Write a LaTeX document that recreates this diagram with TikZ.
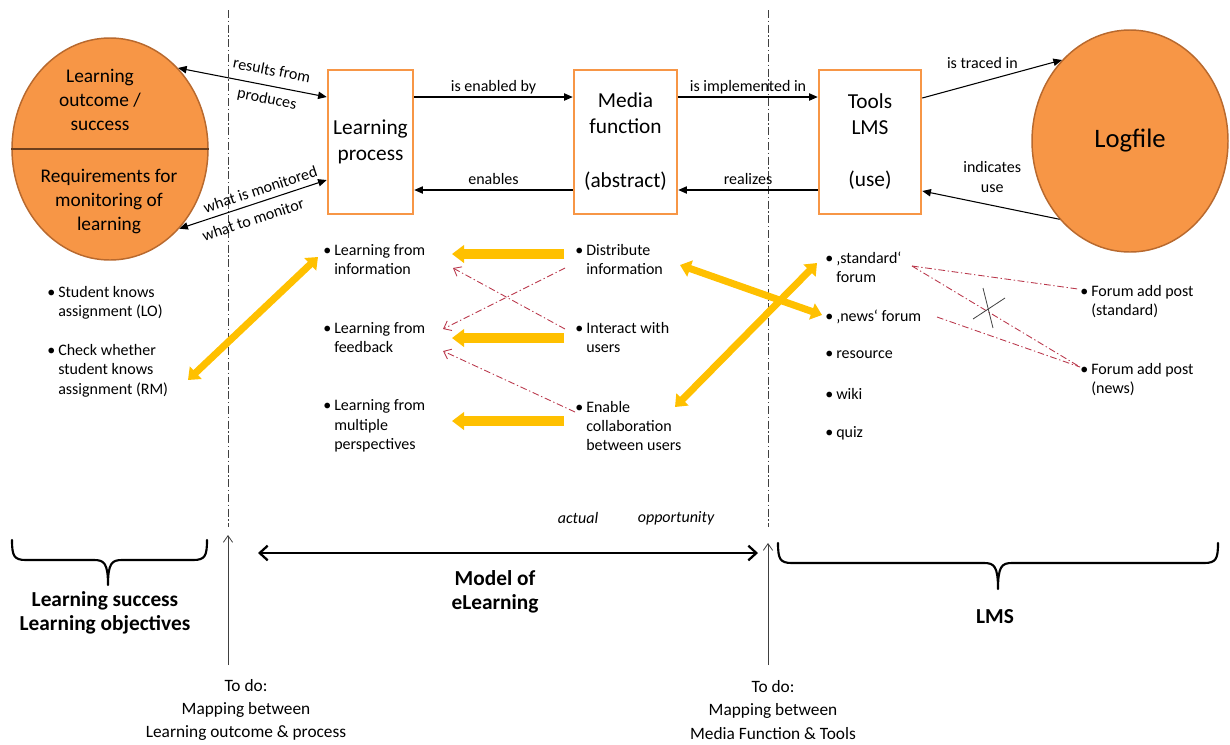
\documentclass[tikz,border=0pt]{standalone}
\usepackage{fontspec}
\setmainfont{Carlito}
\usetikzlibrary{arrows.meta,calc,shapes.geometric}
\newdimen\pxu \pxu=0.75pt
\definecolor{orfill}{HTML}{F79646}
\definecolor{ordraw}{HTML}{B8692E}
\definecolor{boxor}{HTML}{F79646}
\definecolor{yel}{HTML}{FFC000}
\definecolor{redd}{RGB}{185,55,75}
\definecolor{dgray}{HTML}{404040}
\newcommand{\bul}{\makebox[11\pxu][l]{\textbullet}}
\newcommand{\ind}{\hspace*{11\pxu}}
\begin{document}
\begin{tikzpicture}[x=0.75pt,y=-0.75pt,
 every node/.style={inner sep=0pt},
 btxt/.style={font=\fontsize{12}{14.5}\selectfont, align=left, anchor=west},
 elab/.style={font=\fontsize{12}{14.5}\selectfont, inner sep=1pt, text height=8.5pt, text depth=2.5pt},
 elabm/.style={font=\fontsize{12}{14.5}\selectfont, inner sep=1pt, align=center},
 circ/.style={ellipse, fill=orfill, draw=ordraw, line width=1.1pt, minimum width=196\pxu, minimum height=222\pxu},
 mbox/.style={rectangle, draw=boxor, line width=1.9pt, fill=white, minimum height=144\pxu, align=center, font=\fontsize{16}{19.5}\selectfont},
 conn/.style={draw=black, line width=0.8pt, -{Triangle[length=6.5pt,width=5.5pt]}},
 dconn/.style={draw=black, line width=0.8pt, {Triangle[length=6.5pt,width=5.5pt]}-{Triangle[length=6.5pt,width=5.5pt]}},
 yfat/.style={draw=yel, line width=7pt, -{Triangle[length=9pt,width=13pt]}},
 ydbl/.style={draw=yel, line width=5.3pt, {Triangle[length=8pt,width=12.5pt]}-{Triangle[length=8pt,width=12.5pt]}},
 rarr/.style={draw=redd, line width=0.65pt, dash pattern=on 5pt off 2pt on 1pt off 2pt, -{Straight Barb[length=5pt,width=8pt]}},
 rdash/.style={draw=redd, line width=0.65pt, dash pattern=on 5pt off 2pt on 1pt off 2pt},
 vsep/.style={draw=dgray, line width=0.7pt, dash pattern=on 6pt off 2pt on 1pt off 2pt},
 upar/.style={draw=dgray, line width=0.6pt, -{Straight Barb[length=5pt,width=7pt]}},
 bigarr/.style={draw=black, line width=1.7pt, {Straight Barb[length=6pt,width=11pt]}-{Straight Barb[length=6pt,width=11pt]}},
 bracestyle/.style={draw=black, line width=1.6pt, line cap=round, line join=round},
 boldtxt/.style={font=\bfseries\fontsize{16}{18}\selectfont, align=center},
 todo/.style={font=\fontsize{13}{17.5}\selectfont, align=center},
 ital/.style={font=\itshape\fontsize{12}{14}\selectfont},
 eltxt/.style={font=\fontsize{14.5}{18}\selectfont, align=center}
]
\useasboundingbox (0,0) rectangle (1230,744);

% separators
\draw[vsep] (228,10) -- (228,527);
\draw[vsep] (768,10) -- (768,527);

% left ellipse
\node[circ] (le) at (110,149) {};
\draw[ordraw!60!black, line width=0.9pt] (le.west) -- (le.east);
\node[eltxt] (lo) at (100,100) {Learning\\outcome /\\success};
\node[eltxt] (rq) at (109,202) {Requirements for\\monitoring of\\learning};

% logfile
\node[circ, font=\fontsize{20}{24}\selectfont] (lg) at (1130,141) {Logfile};

% boxes
\node[mbox, minimum width=85\pxu] (lp) at (370.5,142) {Learning\\process};
\node[mbox, minimum width=103\pxu] (mf) at (625.5,142) {Media\\function\\[21pt](abstract)};
\node[mbox, minimum width=102\pxu] (tl) at (870,142) {Tools\\LMS\\[19.5pt](use)};

% connectors top
\draw[conn] ($(lp.east)+(0,-45)$) -- node[elab, above]{is enabled by} ($(mf.west)+(0,-45)$);
\draw[conn] ($(mf.west)+(0,48)$) -- node[elab, above]{enables} ($(lp.east)+(0,48)$);
\draw[conn] ($(mf.east)+(0,-45)$) -- node[elab, above]{is implemented in} ($(tl.west)+(0,-45)$);
\draw[conn] ($(tl.west)+(0,48)$) -- node[elab, above]{realizes} ($(mf.east)+(0,48)$);
\draw[conn] ($(tl.east)+(0,-44)$) -- node[elab, above=6pt, pos=0.43]{is traced in} (lg.130);
\draw[conn] (lg.228) -- node[elabm, above=8.5pt, pos=0.49]{indicates\\use} ($(tl.east)+(0,49)$);
\draw[dconn] (le.50) -- node[elab, sloped, above=3.9pt, pos=0.61]{results from} node[elab, sloped, below=3.6pt, pos=0.615]{produces} ($(lp.west)+(0,-45)$);
\draw[dconn] (le.-49) -- node[elab, sloped, above=1pt, pos=0.575]{what is monitored} node[elab, sloped, below=5pt, pos=0.47]{what to monitor} ($(lp.west)+(0,38)$);

% bullet lists
\node[btxt] (so) at (47,302.5) {\bul Student knows\\\ind assignment (LO)};
\node[btxt] (ck) at (47,370.5) {\bul Check whether\\\ind student knows\\\ind assignment (RM)};
\node[btxt] (l1) at (323,259.5) {\bul Learning from\\\ind information};
\node[btxt] (l2) at (323,337.5) {\bul Learning from\\\ind feedback};
\node[btxt] (l3) at (323,426) {\bul Learning from\\\ind multiple\\\ind perspectives};
\node[btxt] (d1) at (575,259.5) {\bul Distribute\\\ind information};
\node[btxt] (i1) at (575,337.5) {\bul Interact with\\\ind users};
\node[btxt] (e1) at (575,426) {\bul Enable\\\ind collaboration\\\ind between users};
\node[btxt] (sf) at (825,267.5) {\bul ‚standard‘\\\ind forum};
\node[btxt] (nf) at (825,317) {\bul ‚news‘ forum};
\node[btxt] (rs) at (825,355) {\bul resource};
\node[btxt] (wk) at (825,394) {\bul wiki};
\node[btxt] (qz) at (825,433) {\bul quiz};
\node[btxt] (fa1) at (1080,301.5) {\bul Forum add post\\\ind (standard)};
\node[btxt] (fa2) at (1080,379.5) {\bul Forum add post\\\ind (news)};

% yellow arrows
\draw[yfat] ($(d1.west)+(-11,-5.5)$) -- ($(l1.west)+(129,-5.5)$);
\draw[yfat] ($(i1.west)+(-11,0.5)$) -- ($(l2.west)+(129,0.5)$);
\draw[yfat] ($(e1.west)+(-11,-5)$) -- ($(l3.west)+(129,-5)$);
\draw[ydbl] ($(ck.west)+(141,9.5)$) -- ($(l1.west)+(-5,-2.5)$);
\draw[ydbl] ($(d1.west)+(105,5.5)$) -- ($(nf.west)+(-3,-2)$);
\draw[ydbl] ($(e1.west)+(100,-19)$) -- ($(sf.west)+(-8,-4.5)$);

% red dash-dot arrows
\draw[rarr] ($(d1.west)+(-10,8.5)$) -- ($(l2.west)+(120,-8.5)$);
\draw[rarr] ($(i1.west)+(-10,-8.5)$) -- ($(l1.west)+(130,8.5)$);
\draw[rarr] ($(e1.west)+(0,-14)$) -- ($(l2.west)+(120,13.5)$);
\draw[rdash] ($(sf.west)+(87,-1.5)$) -- ($(fa1.west)+(-2,-12.5)$);
\draw[rdash] ($(sf.west)+(87,-1.5)$) -- ($(fa2.west)+(0,-12.5)$);
\draw[rdash] ($(nf.west)+(112,0)$) -- ($(fa2.west)+(0,-12.5)$);
% cross mark
\draw[dgray, line width=0.6pt] (983,288) -- (993,328);
\draw[dgray, line width=0.6pt] (973,319) -- (1005,298);

% bottom
\draw[bracestyle] (12,540) .. controls (12,556) and (14,560) .. (26,560) -- (94,560) .. controls (104,560) and (108,563) .. (108,585)
  .. controls (108,563) and (112,560) .. (122,560) -- (193,560) .. controls (205,560) and (207,556) .. (207,540);
\draw[bracestyle] (778,543) .. controls (778,559) and (780,563) .. (792,563) -- (984,563) .. controls (994,563) and (998,566) .. (998,589)
  .. controls (998,566) and (1002,563) .. (1012,563) -- (1204,563) .. controls (1216,563) and (1218,559) .. (1218,543);
\node[boldtxt] (ls) at (105,613) {Learning success\\Learning objectives};
\node[boldtxt] (me) at (495,592) {Model of\\eLearning};
\node[boldtxt] (lms) at (995,617) {LMS};
\coordinate (ma) at (258,553);
\coordinate (mb) at (758,553);
\draw[bigarr] (ma) -- (mb);
\node[ital] (act) at (578,518) {actual};
\node[ital] (opp) at (676,518) {opportunity};
\node[todo] (td1) at (246,710) {To do:\\Mapping between\\Learning outcome \& process};
\node[todo] (td2) at (773,710) {To do:\\Mapping between\\Media Function \& Tools};
\coordinate (u1b) at (228,665);
\coordinate (u1t) at (228,535);
\coordinate (u2b) at (768,665);
\coordinate (u2t) at (768,543);
\draw[upar] (u1b) -- (u1t);
\draw[upar] (u2b) -- (u2t);
\end{tikzpicture}
\end{document}
